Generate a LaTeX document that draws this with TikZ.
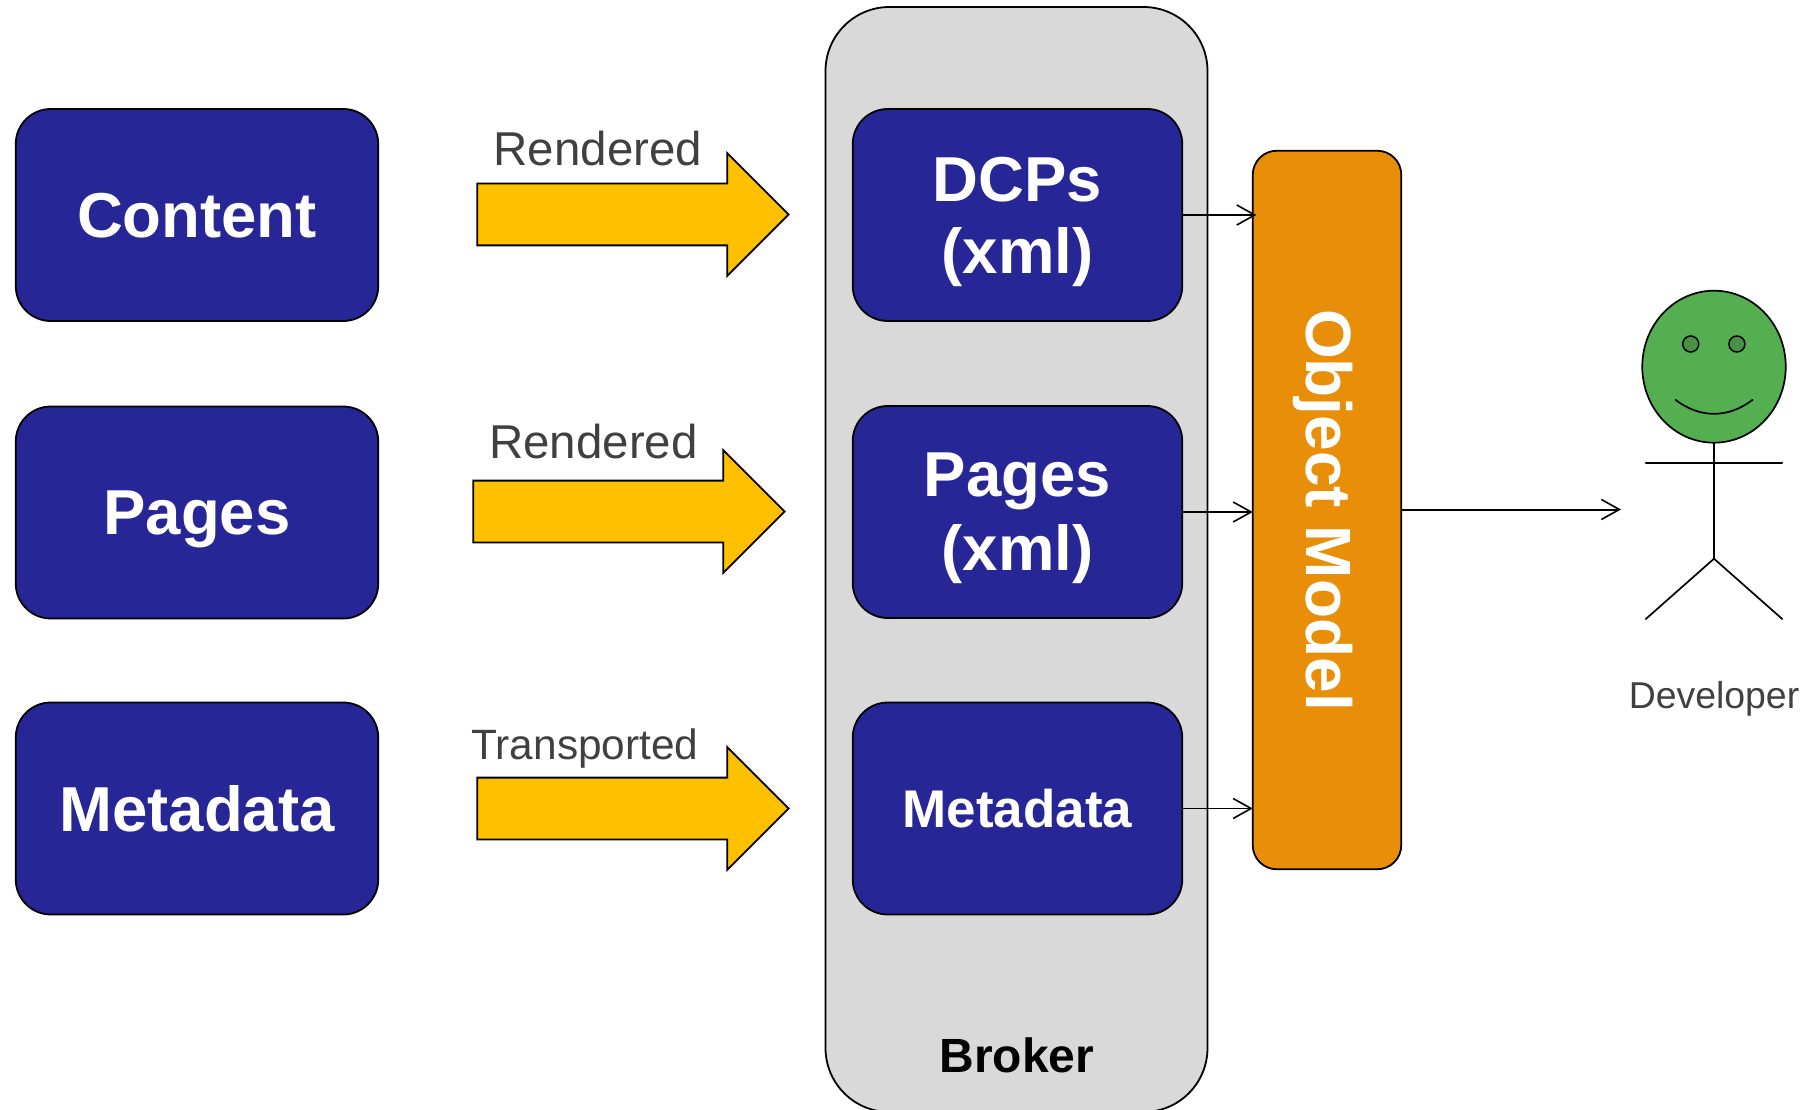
\documentclass[tikz,border=0pt]{standalone}
\usepackage{fontspec}
\setmainfont{Liberation Sans}
\usetikzlibrary{arrows.meta,shapes.arrows,shapes.geometric}
\newcommand{\fsz}[1]{\fontsize{#1}{#1}\selectfont}
\definecolor{navy}{HTML}{262696}
\definecolor{orng}{HTML}{E88E08}
\definecolor{gold}{HTML}{FFC000}
\definecolor{pale}{HTML}{D9D9D9}
\definecolor{face}{HTML}{54AF50}
\definecolor{eye}{HTML}{4A9145}
\definecolor{lab}{HTML}{404040}
\tikzset{
  box/.style={draw=black,line width=1.8pt,fill=navy,rounded corners=35pt,minimum height=212pt,inner sep=0pt,outer sep=0pt,text=white,align=center,text depth=0pt,font=\bfseries\fsz{63.5}},
  leftbox/.style={box,minimum width=362.5pt},
  midbox/.style={box,minimum width=329.5pt},
  blockarrow/.style={single arrow,draw=black,line width=1.8pt,fill=gold,inner sep=30pt,outer sep=0pt,minimum width=121pt,minimum height=311.5pt,single arrow head extend=30.5pt},
  lbl/.style={text=lab,anchor=base,inner sep=0pt},
  conn/.style={line width=1.6pt,-{Straight Barb[length=18pt,width=20pt,line width=1.6pt]}},
  stick/.style={line width=1.7pt,line cap=round}
}
\begin{document}
\begin{tikzpicture}[x=1pt,y=-1pt]
\useasboundingbox (0,0) rectangle (1818,1110);
% broker
\node (broker) [draw=black,line width=1.8pt,fill=pale,rounded corners=64pt,minimum width=382pt,minimum height=1105pt,inner sep=0pt,outer sep=0pt] at (1016.5,559.5) {};
\node (brokerlabel) [anchor=base,inner sep=0pt,font=\bfseries\fsz{48}] at (1017,1072) {Broker};
% left boxes
\node (content) [leftbox] at (197,215) {Content};
\node (pages) [leftbox] at (197,512.5) {Pages};
\node (metadata) [leftbox] at (197,808.5) {Metadata};
% inner boxes
\node (dcps) [midbox] at (1017.5,215) {DCPs\\[8.5pt](xml)};
\node (pagesxml) [midbox] at (1017.5,512) {Pages\\[10.5pt](xml)};
\node (metaxml) [midbox,font=\bfseries\fsz{53}] at (1017.5,808.5) {Metadata};
% object model
\node (om) [draw=black,line width=1.8pt,fill=orng,rounded corners=24pt,minimum width=148.5pt,minimum height=718.5pt,inner sep=0pt,outer sep=0pt] at (1327,510) {};
\node (omlabel) [rotate=-90,inner sep=0pt,text=white,font=\bfseries\fsz{64}] at (1323.5,510) {Object Model};
% block arrows
\node (a1) [blockarrow] at (617.5,214.5) {};
\node (a2) [blockarrow] at (613.5,511.5) {};
\node (a3) [blockarrow] at (617.5,808.5) {};
% labels
\node (l1) [lbl,font=\fsz{47.5}] at (598,166) {Rendered};
\node (l2) [lbl,font=\fsz{47.5}] at (593.5,458) {Rendered};
\node (l3) [lbl,font=\fsz{42.4}] at (585,759) {Transported};
% connectors
\coordinate (t1) at (1256.4,215);
\coordinate (t4) at (1621,509.5);
\draw[conn] (dcps.east) -- (t1);
\draw[conn] (pagesxml.east) -- (om.west |- pagesxml.east);
\draw[conn] (metaxml.east) -- (om.west |- metaxml.east);
\draw[conn,line width=2pt] (om.east |- t4) -- (t4);
% developer
\node (head) [ellipse,draw=black,line width=1.7pt,fill=face,minimum width=143.5pt,minimum height=152pt,inner sep=0pt,outer sep=0pt] at (1714,366.7) {};
\node (eyel) [circle,draw=black,line width=1.5pt,fill=eye,minimum size=16pt,inner sep=0pt] at (1690.7,344) {};
\node (eyer) [circle,draw=black,line width=1.5pt,fill=eye,minimum size=16pt,inner sep=0pt] at (1736.9,344) {};
\coordinate (smilel) at (1675.4,399.8);
\coordinate (smiler) at (1752.6,399.8);
\draw[stick] (smilel) .. controls (1700,418.5) and (1728,418.5) .. (smiler);
\coordinate (hip) at (1714,558.7);
\coordinate (arml) at (1645.8,462.9);
\coordinate (armr) at (1782.2,462.9);
\coordinate (legl) at (1645.8,619);
\coordinate (legr) at (1782.2,619);
\draw[stick] (head.south) -- (hip);
\draw[stick] (arml) -- (armr);
\draw[stick] (legl) -- (hip) -- (legr);
\node (dev) [lbl,font=\fsz{37.4}] at (1714,708) {Developer};
\end{tikzpicture}
\end{document}
